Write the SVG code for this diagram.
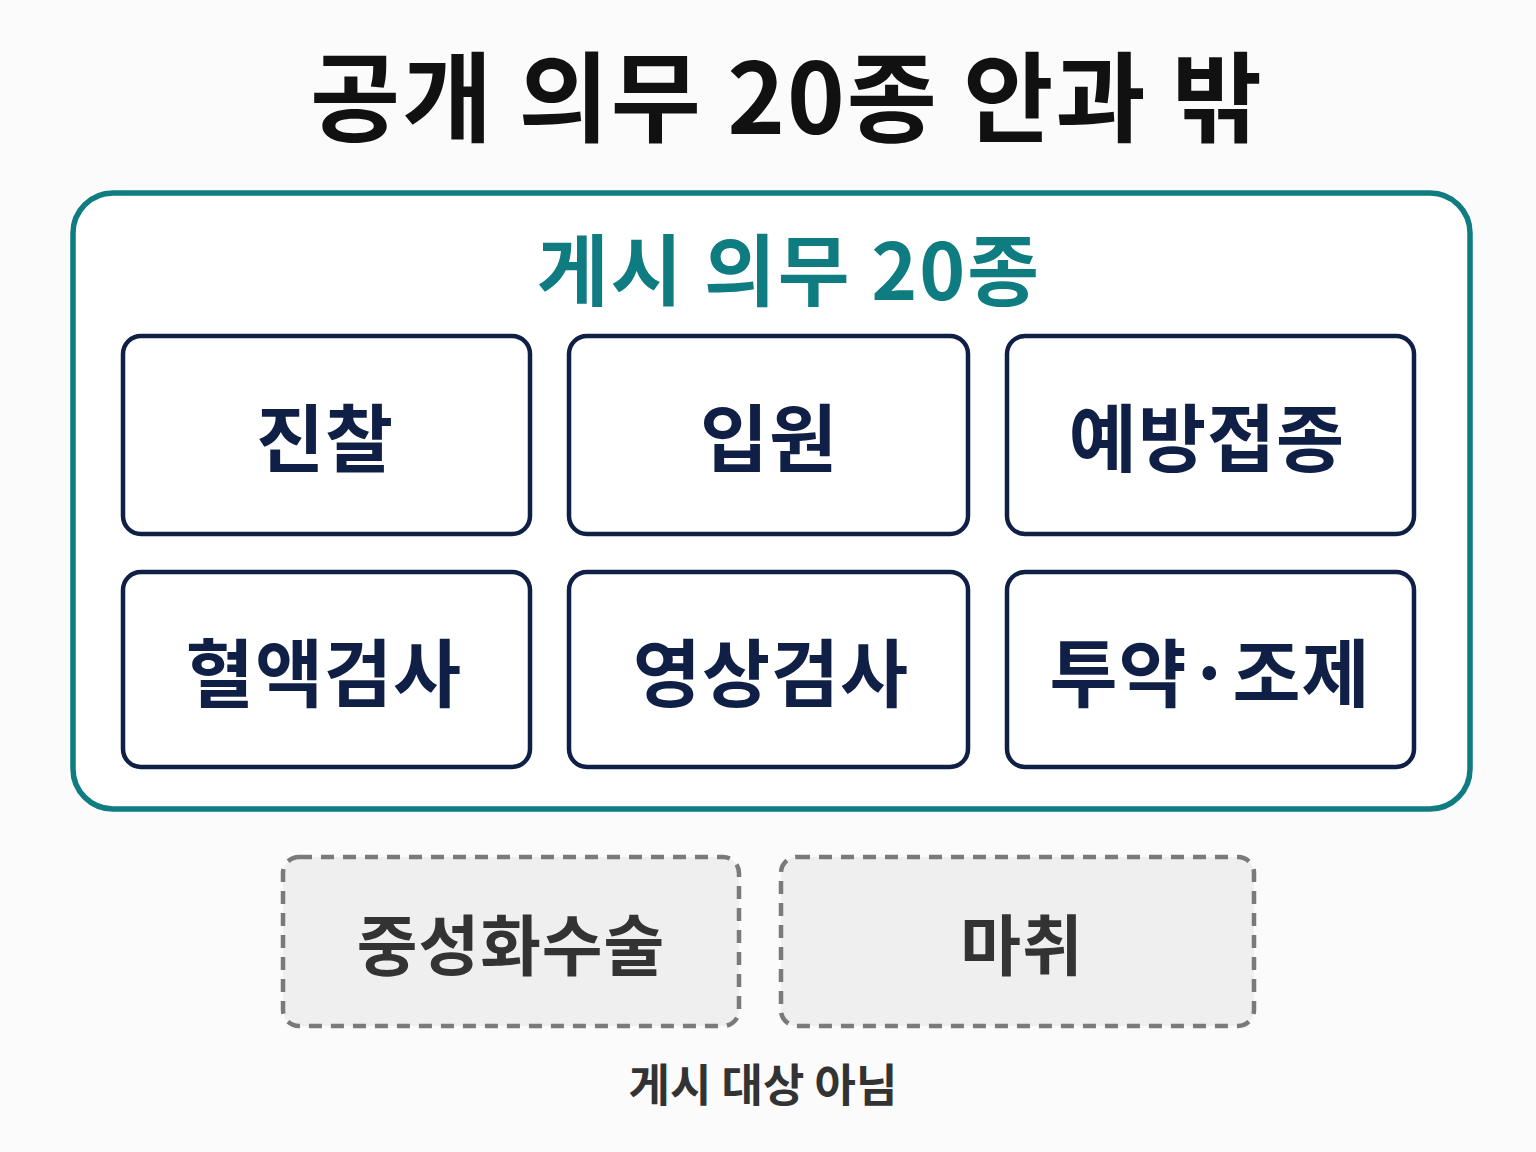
<svg xmlns="http://www.w3.org/2000/svg" width="1536" height="1152" viewBox="0 0 1536 1152">
<style>
text{font-family:"Noto Sans CJK KR","Noto Sans",sans-serif;font-weight:700;text-anchor:middle}
.title{font-size:98px;fill:#111111;letter-spacing:2px}
.sub{font-size:78px;fill:#0e7c80;letter-spacing:2px}
.box{fill:#ffffff;stroke:#0f1f45;stroke-width:4.5}
.lbl{font-size:74px;fill:#0f1f45;letter-spacing:1px}
.dash{fill:#efefef;stroke:#7a7a7a;stroke-width:4.5;stroke-dasharray:13 9}
.dlbl{font-size:66px;fill:#333333;letter-spacing:1px}
.note{font-size:45px;fill:#333333}
</style>
<rect width="1536" height="1152" fill="#fbfbfb"/>
<text class="title" x="787" y="134">공개 의무 20종 안과 밖</text>
<g id="container">
<rect x="73" y="193" width="1397" height="616" rx="40" fill="#ffffff" stroke="#0e7c80" stroke-width="5.5"/>
<text class="sub" x="789" y="300">게시 의무 20종</text>
</g>
<g id="n1"><rect class="box" x="123" y="336" width="407" height="198" rx="18"/><text class="lbl" x="325" y="466">진찰</text></g>
<g id="n2"><rect class="box" x="569" y="336" width="399" height="198" rx="18"/><text class="lbl" x="769" y="466">입원</text></g>
<g id="n3"><rect class="box" x="1007" y="336" width="407" height="198" rx="18"/><text class="lbl" x="1207" y="466">예방접종</text></g>
<g id="n4"><rect class="box" x="123" y="572" width="407" height="195" rx="18"/><text class="lbl" x="324" y="701">혈액검사</text></g>
<g id="n5"><rect class="box" x="569" y="572" width="399" height="195" rx="18"/><text class="lbl" x="771" y="701">영상검사</text></g>
<g id="n6"><rect class="box" x="1007" y="572" width="407" height="195" rx="18"/><text class="lbl" x="1210" y="701">투약·조제</text></g>
<g id="n7"><rect class="dash" x="283" y="857" width="456" height="169" rx="16"/><text class="dlbl" x="511" y="970">중성화수술</text></g>
<g id="n8"><rect class="dash" x="781" y="857" width="473" height="169" rx="16"/><text class="dlbl" x="1022" y="970">마취</text></g>
<text class="note" x="763" y="1102">게시 대상 아님</text>
<g id="connectors"></g>
</svg>
